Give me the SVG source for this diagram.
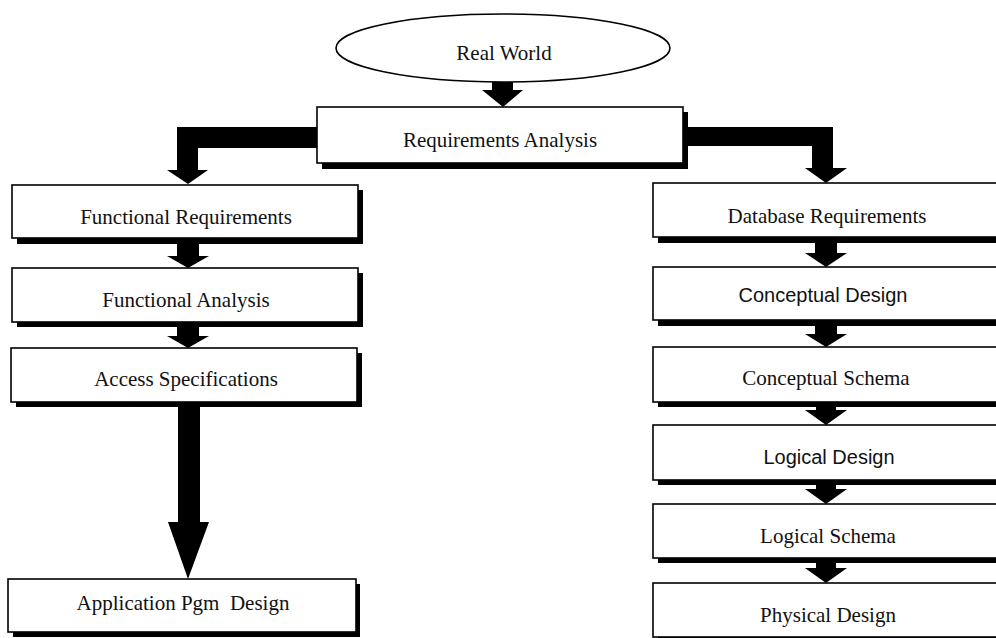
<svg xmlns="http://www.w3.org/2000/svg" width="996" height="638" viewBox="0 0 996 638">
<style>
.sh{fill:#000}
.bx{fill:#fff;stroke:#000;stroke-width:1.6}
.ar{fill:#000}
.t{font-family:"Liberation Serif","Times New Roman",serif;font-size:21px;fill:#111;text-anchor:middle;white-space:pre}
.s{font-family:"Liberation Sans",Arial,sans-serif;font-size:20px;fill:#111;text-anchor:middle}
</style>
<rect width="996" height="638" fill="#fff"/>
<g id="connectors">
<path class="ar" d="M492,81 H513 V90 H523 L503,107 L482,90 H492 Z"/>
<path class="ar" d="M320,127 H177 V170 H167 L188,184 L208,170 H198 V148 H320 Z"/>
<path class="ar" d="M680,127 H833 V168 H847 L826,183 L805,168 H812 V146 H680 Z"/>
<path class="ar" d="M177,243 H199 V256 H209 L188,268 L167,256 H177 Z"/>
<path class="ar" d="M177,326 H199 V336 H209 L188,348 L167,336 H177 Z"/>
<path class="ar" d="M178,406 H200 V522 H209 L188,579 L168,522 H178 Z"/>
<path class="ar" d="M815,242 H837 V253 H847 L826,267 L805,253 H815 Z"/>
<path class="ar" d="M815,326 H837 V334 H847 L826,347 L805,334 H815 Z"/>
<path class="ar" d="M816,406 H836 V410 H847 L826,425 L805,410 H816 Z"/>
<path class="ar" d="M816,485 H836 V489 H847 L826,504 L805,489 H816 Z"/>
<path class="ar" d="M816,562 H836 V568 H847 L826,583 L805,568 H816 Z"/>
</g>
<g id="real-world">
<ellipse class="bx" cx="503" cy="48" rx="167" ry="34"/>
<text class="t" x="504" y="60">Real World</text>
</g>
<g id="requirements-analysis">
<rect class="sh" x="322" y="112" width="366" height="57"/>
<rect class="bx" x="317" y="107" width="366" height="56"/>
<text class="t" x="500" y="147">Requirements Analysis</text>
</g>
<g id="functional-requirements">
<rect class="sh" x="17" y="190" width="346" height="54"/>
<rect class="bx" x="12" y="185" width="346" height="53"/>
<text class="t" x="186" y="224">Functional Requirements</text>
</g>
<g id="functional-analysis">
<rect class="sh" x="17" y="273" width="346" height="54"/>
<rect class="bx" x="12" y="268" width="346" height="54"/>
<text class="t" x="186" y="307">Functional Analysis</text>
</g>
<g id="access-specifications">
<rect class="sh" x="16" y="353" width="346" height="54"/>
<rect class="bx" x="11" y="348" width="346" height="54"/>
<text class="t" x="186" y="386">Access Specifications</text>
</g>
<g id="application-pgm-design">
<rect class="sh" x="13" y="584" width="347" height="53"/>
<rect class="bx" x="8" y="579" width="348" height="53"/>
<text class="t" x="183" y="610" xml:space="preserve">Application Pgm  Design</text>
</g>
<g id="database-requirements">
<rect class="sh" x="658" y="188" width="346" height="55"/>
<rect class="bx" x="653" y="183" width="346" height="54"/>
<text class="t" x="827" y="223">Database Requirements</text>
</g>
<g id="conceptual-design">
<rect class="sh" x="658" y="272" width="346" height="54"/>
<rect class="bx" x="653" y="267" width="346" height="53"/>
<text class="s" x="823" y="302">Conceptual Design</text>
</g>
<g id="conceptual-schema">
<rect class="sh" x="658" y="352" width="346" height="55"/>
<rect class="bx" x="653" y="347" width="346" height="55"/>
<text class="t" x="826" y="385">Conceptual Schema</text>
</g>
<g id="logical-design">
<rect class="sh" x="658" y="430" width="346" height="55"/>
<rect class="bx" x="653" y="425" width="346" height="55"/>
<text class="s" x="829" y="464">Logical Design</text>
</g>
<g id="logical-schema">
<rect class="sh" x="658" y="509" width="346" height="54"/>
<rect class="bx" x="653" y="504" width="346" height="54"/>
<text class="t" x="828" y="543">Logical Schema</text>
</g>
<g id="physical-design">
<rect class="sh" x="658" y="588" width="346" height="54"/>
<rect class="bx" x="653" y="583" width="346" height="54"/>
<text class="t" x="828" y="622">Physical Design</text>
</g>
</svg>
